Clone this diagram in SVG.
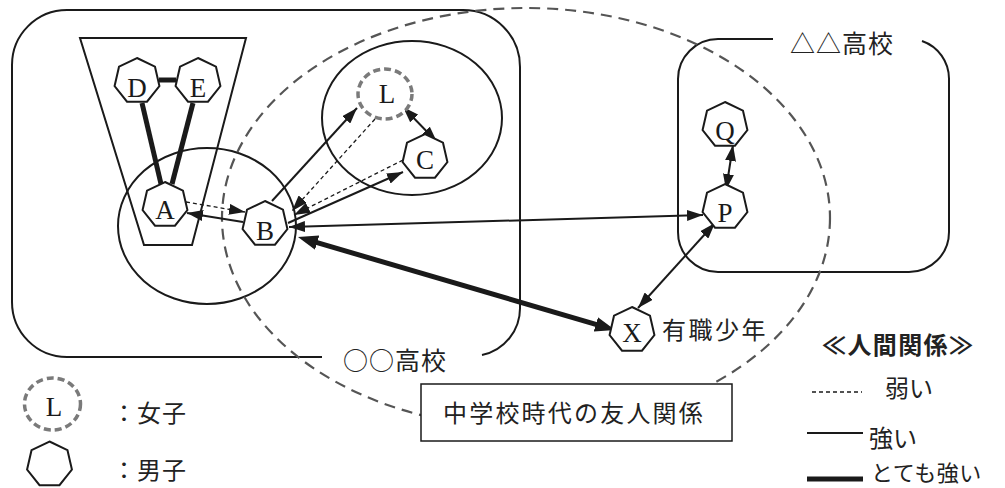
<svg xmlns="http://www.w3.org/2000/svg" xmlns:xlink="http://www.w3.org/1999/xlink" width="1005" height="488" viewBox="0 0 1005 488">
<style>
.frame{fill:none;stroke:#1a1a1a;stroke-width:2}
.hep{fill:#fff;stroke:#1a1a1a;stroke-width:2}
.lbl{font-family:"Liberation Serif",serif;font-size:27px;fill:#1a1a1a;text-anchor:middle}
.jp{font-family:"Noto Sans CJK JP",sans-serif;fill:#222}
.girl{fill:#fff;stroke:#7a7a7a;stroke-width:3.5;stroke-dasharray:7 4}
.weak{fill:none;stroke:#1a1a1a;stroke-width:1.3;stroke-dasharray:4 3}
.strong{fill:none;stroke:#1a1a1a;stroke-width:2}
.vstrong{fill:none;stroke:#1a1a1a;stroke-width:5}
</style>
<defs>
<polygon id="hep" points="0,-23 17.98,-14.34 22.42,5.12 9.98,20.72 -9.98,20.72 -22.42,5.12 -17.98,-14.34"/>
<marker id="ah" viewBox="0 0 16 11" refX="16" refY="5.5" markerWidth="16" markerHeight="11" markerUnits="userSpaceOnUse" orient="auto-start-reverse"><path d="M0,0 L16,5.5 L0,11 z" fill="#1a1a1a"/></marker>
<marker id="ahb" viewBox="0 0 20 15" refX="8" refY="7.5" markerWidth="20" markerHeight="15" markerUnits="userSpaceOnUse" orient="auto-start-reverse"><path d="M0,0 L20,7.5 L0,15 z" fill="#1a1a1a"/></marker>
</defs>
<rect width="1005" height="488" fill="#fff"/>

<g id="school-oo">
<path class="frame" d="M322,357 H67 A55,55 0 0 1 12,302 V65 A55,55 0 0 1 67,10 H463 A57,57 0 0 1 520,67 V307 A48,48 0 0 1 482,355"/>
<text class="jp" x="343" y="370" font-size="25" letter-spacing="1">○○高校</text>
</g>
<g id="school-tt">
<path class="frame" d="M773,39 H718 A40,40 0 0 0 678,79 V232 A40,40 0 0 0 718,272 H909 A40,40 0 0 0 949,232 V79 A40,40 0 0 0 922,41"/>
<text class="jp" x="790" y="53" font-size="25" letter-spacing="1">△△高校</text>
</g>
<g id="groups">
<polygon class="frame" points="80,38 246,38 192,245 144,245"/>
<ellipse class="frame" cx="207" cy="226" rx="89" ry="78"/>
<ellipse class="frame" cx="412" cy="118" rx="90" ry="77"/>
</g>
<g id="middle-school">
<ellipse cx="526" cy="218" rx="304" ry="210" fill="none" stroke="#555" stroke-width="2.2" stroke-dasharray="11 7"/>
<rect x="421" y="384" width="311" height="57" fill="#fff" stroke="#1a1a1a" stroke-width="1.5"/>
<text class="jp" x="443" y="422" font-size="24" letter-spacing="2.2">中学校時代の友人関係</text>
</g>

<g id="connectors">
<line class="vstrong" x1="159" y1="80" x2="176" y2="80"/>
<line class="vstrong" x1="142" y1="103" x2="161" y2="184"/>
<line class="vstrong" x1="193" y1="103" x2="172" y2="184"/>
<line class="weak" x1="186" y1="202" x2="245" y2="212" marker-end="url(#ah)"/>
<line class="strong" x1="243" y1="222" x2="187" y2="213" marker-end="url(#ah)"/>
<line class="strong" x1="272" y1="201" x2="357" y2="108" marker-end="url(#ah)"/>
<line class="weak" x1="375" y1="119" x2="292" y2="211" marker-end="url(#ah)"/>
<line class="weak" x1="403" y1="160" x2="294" y2="215" marker-end="url(#ah)"/>
<line class="strong" x1="288" y1="223" x2="403" y2="172" marker-end="url(#ah)"/>
<line class="strong" x1="403" y1="107" x2="437" y2="142" marker-start="url(#ah)" marker-end="url(#ah)"/>
<line class="strong" x1="289" y1="227" x2="703" y2="215" marker-start="url(#ah)" marker-end="url(#ah)"/>
<line class="strong" x1="733" y1="145" x2="726" y2="190" marker-start="url(#ah)" marker-end="url(#ah)"/>
<line class="strong" x1="715" y1="223" x2="638" y2="308" marker-start="url(#ah)" marker-end="url(#ah)"/>
<line class="vstrong" x1="309.5" y1="240.4" x2="603.5" y2="326.6" marker-start="url(#ahb)" marker-end="url(#ahb)"/>
</g>

<g id="node-D" transform="translate(137,81)"><use href="#hep" class="hep"/><text class="lbl" y="16">D</text></g>
<g id="node-E" transform="translate(198,81)"><use href="#hep" class="hep"/><text class="lbl" y="16">E</text></g>
<g id="node-A" transform="translate(165,205)"><use href="#hep" class="hep"/><text class="lbl" y="14">A</text></g>
<g id="node-B" transform="translate(265,224)"><use href="#hep" class="hep"/><text class="lbl" y="16">B</text></g>
<g id="node-L" transform="translate(385,94)"><ellipse class="girl" rx="27" ry="25"/><text class="lbl" x="2" y="9">L</text></g>
<g id="node-C" transform="translate(425,157)"><use href="#hep" class="hep"/><text class="lbl" y="12">C</text></g>
<g id="node-Q" transform="translate(725,125)"><use href="#hep" class="hep"/><text class="lbl" y="15">Q</text></g>
<g id="node-P" transform="translate(725,207)"><use href="#hep" class="hep"/><text class="lbl" y="15">P</text></g>
<g id="node-X" transform="translate(632,330)"><use href="#hep" class="hep"/><text class="lbl" y="12">X</text></g>
<text id="label-X" class="jp" x="662" y="339" font-size="24" letter-spacing="2.5">有職少年</text>

<g id="legend-people">
<ellipse class="girl" cx="52.5" cy="404" rx="28" ry="26"/>
<text class="lbl" x="54" y="416">L</text>
<text class="jp" x="112" y="422" font-size="24" letter-spacing="1">：女子</text>
<use href="#hep" class="hep" x="49.5" y="464.5"/>
<text class="jp" x="112" y="479" font-size="24" letter-spacing="1">：男子</text>
</g>
<g id="legend-relations">
<text class="jp" x="822" y="354" font-size="24" font-weight="bold" letter-spacing="1.4">≪人間関係≫</text>
<line class="weak" x1="812" y1="392" x2="862" y2="392"/>
<text class="jp" x="885" y="397" font-size="24">弱い</text>
<line x1="807" y1="433" x2="863" y2="433" stroke="#1a1a1a" stroke-width="2"/>
<text class="jp" x="869" y="447" font-size="24">強い</text>
<line x1="807" y1="479" x2="863" y2="479" stroke="#1a1a1a" stroke-width="5"/>
<text class="jp" x="871" y="481" font-size="22" letter-spacing="0.5">とても強い</text>
</g>
</svg>
